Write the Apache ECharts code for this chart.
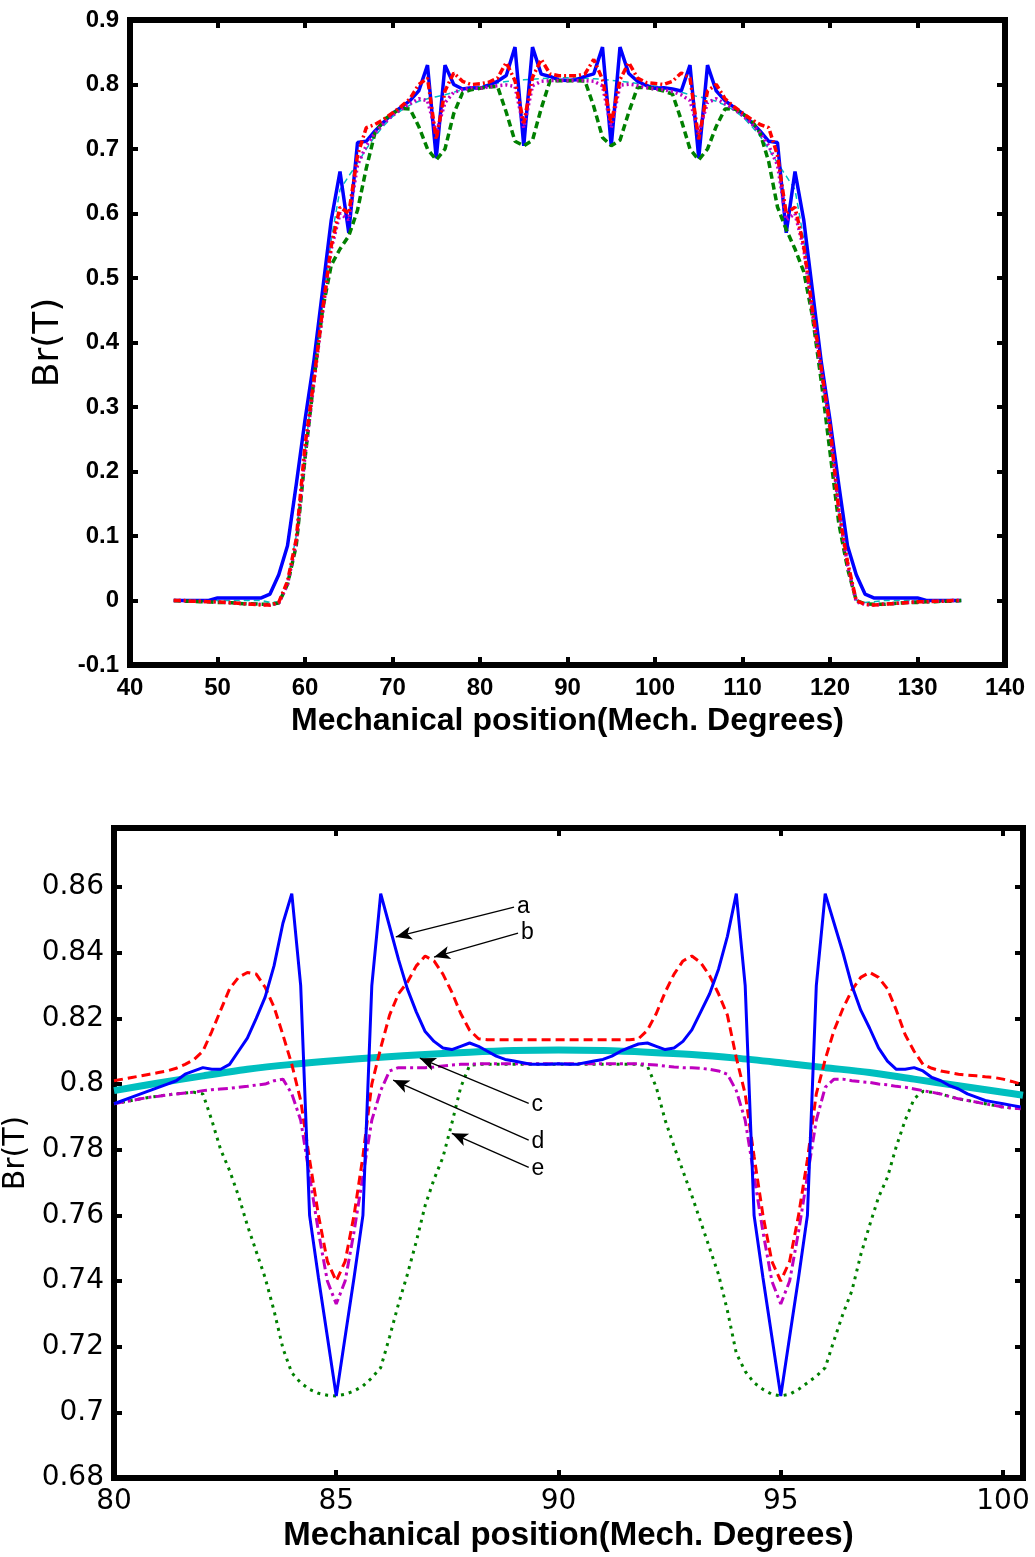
<!DOCTYPE html>
<html>
<head>
<meta charset="utf-8">
<script src="https://cdn.jsdelivr.net/npm/echarts@6/dist/echarts.min.js"></script>
<style>
  html, body { margin: 0; padding: 0; background: #ffffff; }
  #chart { width: 1035px; height: 1557px; }
</style>
</head>
<body>
<div id="chart"></div>
<script>
// ---------- Full pole pitch (upper plot) ----------
const topPos = [45, 46, 47, 48, 49, 50, 51, 52, 53, 54, 55, 56, 57, 58, 59, 60, 61, 62, 63, 64,
  65, 66, 67, 68, 69, 70, 71, 72, 73, 74, 75, 76, 77, 78, 79, 80, 81, 82, 83, 84,
  85, 86, 87, 88, 89, 90, 91, 92, 93, 94, 95, 96, 97, 98, 99, 100, 101, 102, 103, 104,
  105, 106, 107, 108, 109, 110, 111, 112, 113, 114, 115, 116, 117, 118, 119, 120, 121, 122, 123, 124,
  125, 126, 127, 128, 129, 130, 131, 132, 133, 134, 135];

const topA = [0.000, 0.000, 0.000, 0.000, 0.000, 0.004, 0.004, 0.004, 0.004, 0.004, 0.004, 0.010, 0.040, 0.085, 0.180, 0.280, 0.370, 0.480, 0.590, 0.665,
  0.570, 0.710, 0.712, 0.728, 0.742, 0.755, 0.765, 0.775, 0.790, 0.830, 0.686, 0.830, 0.800, 0.793, 0.795, 0.794, 0.799, 0.805, 0.814, 0.858,
  0.705, 0.858, 0.816, 0.8125, 0.807, 0.8062, 0.8075, 0.8125, 0.8165, 0.858, 0.705, 0.858, 0.817, 0.805, 0.7985, 0.794, 0.795, 0.793, 0.790, 0.830,
  0.686, 0.830, 0.790, 0.775, 0.765, 0.755, 0.742, 0.728, 0.712, 0.710, 0.570, 0.665, 0.590, 0.480, 0.370, 0.280, 0.180, 0.085, 0.040, 0.010,
  0.004, 0.004, 0.004, 0.004, 0.004, 0.004, 0.000, 0.000, 0.000, 0.000, 0.000];

const topB = [0.000, 0.000, -0.001, -0.001, -0.002, -0.002, -0.003, -0.004, -0.005, -0.006, -0.007, -0.007, -0.003, 0.030, 0.095, 0.240, 0.340, 0.450, 0.550, 0.610,
  0.600, 0.690, 0.733, 0.738, 0.746, 0.756, 0.766, 0.778, 0.800, 0.810, 0.715, 0.790, 0.818, 0.805, 0.800, 0.801, 0.8035, 0.810, 0.834, 0.806,
  0.740, 0.811, 0.839, 0.8164, 0.8135, 0.8135, 0.8135, 0.8164, 0.839, 0.808, 0.740, 0.8075, 0.834, 0.810, 0.803, 0.8015, 0.800, 0.805, 0.818, 0.810,
  0.715, 0.790, 0.800, 0.778, 0.766, 0.756, 0.746, 0.738, 0.733, 0.690, 0.600, 0.610, 0.550, 0.450, 0.360, 0.270, 0.140, 0.060, 0.000, -0.006,
  -0.007, -0.006, -0.005, -0.004, -0.003, -0.002, -0.002, -0.001, -0.001, 0.000, 0.000];

const topC = [0.000, 0.000, 0.000, 0.000, 0.000, 0.000, 0.000, 0.000, 0.000, 0.000, 0.000, -0.003, -0.002, 0.030, 0.100, 0.230, 0.345, 0.455, 0.560, 0.637,
  0.658, 0.678, 0.700, 0.720, 0.736, 0.750, 0.760, 0.768, 0.774, 0.778, 0.781, 0.784, 0.788, 0.792, 0.795, 0.798, 0.8003, 0.8025, 0.8045, 0.806,
  0.8072, 0.8082, 0.809, 0.8097, 0.8102, 0.8104, 0.8102, 0.8097, 0.809, 0.8079, 0.8065, 0.805, 0.8035, 0.8015, 0.7995, 0.7975, 0.795, 0.792, 0.788, 0.784,
  0.781, 0.778, 0.774, 0.768, 0.760, 0.750, 0.736, 0.720, 0.700, 0.678, 0.658, 0.637, 0.560, 0.455, 0.350, 0.260, 0.140, 0.055, 0.000, -0.003,
  -0.002, 0.000, 0.000, 0.000, 0.000, 0.000, 0.000, 0.000, 0.000, 0.000, 0.000];

const topD = [0.000, 0.000, -0.001, -0.001, -0.002, -0.002, -0.003, -0.004, -0.005, -0.006, -0.006, -0.007, -0.004, 0.025, 0.090, 0.225, 0.335, 0.445, 0.545, 0.600,
  0.590, 0.675, 0.705, 0.725, 0.740, 0.752, 0.762, 0.770, 0.778, 0.775, 0.725, 0.772, 0.788, 0.792, 0.795, 0.794, 0.7963, 0.798, 0.7993, 0.797,
  0.733, 0.798, 0.805, 0.806, 0.8062, 0.8062, 0.8062, 0.806, 0.805, 0.798, 0.733, 0.799, 0.8005, 0.7985, 0.7955, 0.793, 0.792, 0.789, 0.784, 0.775,
  0.725, 0.772, 0.778, 0.770, 0.762, 0.752, 0.740, 0.725, 0.705, 0.675, 0.590, 0.600, 0.545, 0.445, 0.355, 0.265, 0.140, 0.055, -0.002, -0.006,
  -0.007, -0.006, -0.005, -0.004, -0.003, -0.002, -0.002, -0.001, -0.001, 0.000, 0.000];

const topE = [0.000, -0.001, -0.001, -0.002, -0.002, -0.003, -0.003, -0.004, -0.005, -0.005, -0.006, -0.006, -0.004, 0.025, 0.085, 0.220, 0.340, 0.450, 0.520, 0.545,
  0.565, 0.605, 0.670, 0.725, 0.745, 0.755, 0.763, 0.762, 0.735, 0.700, 0.683, 0.700, 0.755, 0.787, 0.792, 0.794, 0.7963, 0.797, 0.757, 0.712,
  0.705, 0.7136, 0.763, 0.8057, 0.806, 0.806, 0.806, 0.8055, 0.766, 0.718, 0.705, 0.7136, 0.757, 0.7955, 0.7955, 0.793, 0.790, 0.785, 0.745, 0.700,
  0.683, 0.700, 0.735, 0.762, 0.763, 0.755, 0.745, 0.725, 0.680, 0.610, 0.575, 0.545, 0.510, 0.440, 0.340, 0.230, 0.120, 0.050, 0.000, -0.005,
  -0.006, -0.006, -0.005, -0.004, -0.003, -0.003, -0.002, -0.002, -0.001, -0.001, 0.000];

// ---------- Detail between 80 and 100 degrees (lower plot) ----------
const detPos = [80.0, 80.2, 80.4, 80.6, 80.8, 81.0, 81.2, 81.4, 81.6, 81.8,
  82.0, 82.2, 82.4, 82.6, 82.8, 83.0, 83.2, 83.4, 83.6, 83.8,
  84.0, 84.2, 84.4, 84.6, 84.8, 85.0, 85.2, 85.4, 85.6, 85.8,
  86.0, 86.2, 86.4, 86.6, 86.8, 87.0, 87.2, 87.4, 87.6, 87.8,
  88.0, 88.2, 88.4, 88.6, 88.8, 89.0, 89.2, 89.4, 89.6, 89.8,
  90.0, 90.2, 90.4, 90.6, 90.8, 91.0, 91.2, 91.4, 91.6, 91.8,
  92.0, 92.2, 92.4, 92.6, 92.8, 93.0, 93.2, 93.4, 93.6, 93.8,
  94.0, 94.2, 94.4, 94.6, 94.8, 95.0, 95.2, 95.4, 95.6, 95.8,
  96.0, 96.2, 96.4, 96.6, 96.8, 97.0, 97.2, 97.4, 97.6, 97.8,
  98.0, 98.2, 98.4, 98.6, 98.8, 99.0, 99.2, 99.4, 99.6, 99.8,
  100.0, 100.2, 100.4];

const detA = [0.794, 0.795, 0.796, 0.797, 0.798, 0.799, 0.800, 0.801, 0.803, 0.804,
  0.805, 0.8045, 0.8045, 0.806, 0.810, 0.814, 0.820, 0.8265, 0.836, 0.849,
  0.858, 0.830, 0.760, 0.741, 0.723, 0.705, 0.723, 0.741, 0.760, 0.830,
  0.858, 0.848, 0.838, 0.829, 0.822, 0.816, 0.813, 0.811, 0.8105, 0.8115,
  0.8125, 0.8115, 0.810, 0.8085, 0.8075, 0.807, 0.8065, 0.806, 0.806, 0.806,
  0.8062, 0.806, 0.806, 0.8065, 0.807, 0.8075, 0.8085, 0.810, 0.8112, 0.8122,
  0.8125, 0.8115, 0.8105, 0.811, 0.813, 0.8165, 0.822, 0.8275, 0.835, 0.845,
  0.858, 0.830, 0.760, 0.741, 0.723, 0.705, 0.723, 0.741, 0.760, 0.830,
  0.858, 0.849, 0.840, 0.830, 0.8225, 0.817, 0.811, 0.807, 0.8045, 0.8045,
  0.805, 0.804, 0.802, 0.801, 0.7995, 0.7985, 0.797, 0.796, 0.795, 0.7945,
  0.794, 0.7935, 0.793];

const detB = [0.801, 0.8015, 0.802, 0.8025, 0.803, 0.8035, 0.804, 0.8048, 0.806, 0.8075,
  0.810, 0.816, 0.8225, 0.829, 0.8325, 0.834, 0.8335, 0.8295, 0.8235, 0.815,
  0.806, 0.795, 0.777, 0.760, 0.746, 0.740, 0.746, 0.760, 0.778, 0.800,
  0.811, 0.821, 0.8275, 0.831, 0.836, 0.839, 0.8375, 0.8335, 0.828, 0.8215,
  0.8164, 0.8138, 0.8135, 0.8135, 0.8135, 0.8135, 0.8135, 0.8135, 0.8135, 0.8135,
  0.8135, 0.8135, 0.8135, 0.8135, 0.8135, 0.8135, 0.8135, 0.8135, 0.8135, 0.8138,
  0.8164, 0.8215, 0.828, 0.8335, 0.8375, 0.839, 0.837, 0.833, 0.8275, 0.821,
  0.808, 0.797, 0.778, 0.760, 0.746, 0.740, 0.746, 0.760, 0.777, 0.797,
  0.8075, 0.8164, 0.823, 0.8286, 0.8325, 0.834, 0.8325, 0.829, 0.8225, 0.815,
  0.810, 0.806, 0.8048, 0.804, 0.8035, 0.803, 0.8027, 0.8025, 0.8022, 0.802,
  0.8015, 0.8008, 0.800];

const detD = [0.794, 0.7945, 0.795, 0.7955, 0.796, 0.7963, 0.7967, 0.797, 0.7973, 0.7975,
  0.798, 0.7983, 0.7985, 0.7987, 0.799, 0.7993, 0.7997, 0.800, 0.801, 0.8015,
  0.797, 0.789, 0.772, 0.755, 0.740, 0.733, 0.740, 0.755, 0.772, 0.789,
  0.798, 0.804, 0.805, 0.805, 0.805, 0.805, 0.8052, 0.8055, 0.8058, 0.806,
  0.806, 0.8062, 0.8062, 0.8062, 0.8062, 0.8062, 0.8062, 0.8062, 0.8062, 0.8062,
  0.8062, 0.8062, 0.8062, 0.8062, 0.8062, 0.8062, 0.8062, 0.8062, 0.8062, 0.8062,
  0.806, 0.8058, 0.8055, 0.8052, 0.805, 0.805, 0.8048, 0.8045, 0.804, 0.803,
  0.798, 0.789, 0.772, 0.755, 0.740, 0.733, 0.740, 0.755, 0.772, 0.789,
  0.799, 0.8015, 0.8015, 0.801, 0.8007, 0.8005, 0.800, 0.7998, 0.7993, 0.799,
  0.7985, 0.798, 0.7975, 0.797, 0.7962, 0.7955, 0.795, 0.7945, 0.794, 0.7935,
  0.793, 0.7927, 0.7925];

const detE = [0.794, 0.7945, 0.795, 0.7955, 0.796, 0.7963, 0.7967, 0.797, 0.7973, 0.7975,
  0.797, 0.789, 0.780, 0.7737, 0.766, 0.757, 0.749, 0.741, 0.731, 0.7195,
  0.712, 0.709, 0.707, 0.7058, 0.7052, 0.705, 0.7055, 0.7065, 0.708, 0.7105,
  0.7136, 0.723, 0.733, 0.742, 0.752, 0.763, 0.771, 0.7777, 0.788, 0.799,
  0.8057, 0.806, 0.806, 0.806, 0.806, 0.806, 0.806, 0.806, 0.806, 0.806,
  0.806, 0.806, 0.806, 0.806, 0.806, 0.806, 0.806, 0.806, 0.806, 0.806,
  0.8055, 0.799, 0.789, 0.781, 0.7735, 0.766, 0.758, 0.750, 0.742, 0.731,
  0.718, 0.7125, 0.709, 0.707, 0.7055, 0.705, 0.7055, 0.707, 0.709, 0.711,
  0.7136, 0.722, 0.730, 0.737, 0.748, 0.757, 0.7655, 0.7716, 0.781, 0.789,
  0.7955, 0.7978, 0.7975, 0.797, 0.7962, 0.7955, 0.795, 0.7945, 0.794, 0.7935,
  0.793, 0.7927, 0.7925];

// curve c is smooth, so it is sampled once per degree
const detPosC = [80, 81, 82, 83, 84, 85, 86, 87, 88, 89, 90, 91, 92, 93, 94, 95, 96, 97, 98, 99, 100, 100.45];
const detC = [0.798, 0.8003, 0.8025, 0.8045, 0.806, 0.8072, 0.8082, 0.809, 0.8097, 0.8102, 0.8104,
  0.8102, 0.8097, 0.809, 0.8079, 0.8065, 0.805, 0.8035, 0.8015, 0.7995, 0.7975, 0.7966];

// Curve labels a–e with the point each arrow marks and where its leader starts
const noteText = ['a', 'b', 'c', 'd', 'e'];
const noteTip = [[86.34, 0.8448], [87.2, 0.8387], [86.88, 0.8079], [86.28, 0.8012], [87.6, 0.7850]];
const noteTail = [[89.0, 0.8539], [89.09, 0.8460], [89.33, 0.7941], [89.33, 0.7829], [89.33, 0.7746]];

// Axis tick settings
const topXTicks = { min: 40, max: 140, step: 10 };
const topYTicks = { min: -0.1, max: 0.9, step: 0.1 };
const detXTicks = { min: 80, max: 100.45, step: 5 };
const detYTicks = { min: 0.68, max: 0.878, step: 0.02 };

const FONT = '"Liberation Sans", Arial, Helvetica, sans-serif';
const WIDE_FONT = '"DejaVu Sans", Verdana, sans-serif';
const AXIS_NAME = 'Mechanical position(Mech. Degrees)';

const COL = { a: '#0000FF', b: '#FF0000', c: '#00BFBF', d: '#BF00BF', e: '#008000' };

function pairs(xs, ys) { return xs.map((x, i) => [x, ys[i]]); }

// only label values that sit on the tick step (skips a non-aligned axis end)
function onStep(step) {
  return function (v) {
    const k = v / step;
    if (Math.abs(k - Math.round(k)) > 1e-6) return '';
    return String(+v.toFixed(4));
  };
}

function valueAxis(opts) {
  const t = opts.ticks;
  return {
    type: 'value',
    gridIndex: opts.grid,
    position: opts.position,
    min: t.min, max: t.max, interval: t.step,
    name: opts.name || '',
    nameLocation: 'middle',
    nameGap: opts.nameGap || 0,
    nameRotate: opts.nameRotate,
    nameTextStyle: opts.nameStyle,
    axisLine: { show: false, onZero: false },
    axisTick: { show: true, inside: true, length: opts.tickLen, lineStyle: { color: '#000', width: opts.tickWidth } },
    axisLabel: opts.labelStyle ? Object.assign({
      show: true, showMinLabel: true, showMaxLabel: true, formatter: onStep(t.step), color: '#000'
    }, opts.labelStyle) : { show: false },
    splitLine: { show: false }
  };
}

const topLabel = { fontSize: 24, fontWeight: 'bold', margin: 11, fontFamily: FONT };
const detLabel = { fontSize: 28, fontWeight: 'normal', margin: 10, fontFamily: WIDE_FONT };

const option = {
  animation: false,
  backgroundColor: '#ffffff',
  grid: [
    { left: 130, right: 30, top: 20, bottom: 892, outerBoundsMode: 'none', containLabel: false,
      show: true, borderColor: '#000', borderWidth: 6, backgroundColor: '#fff' },
    { left: 114, right: 12, top: 828, bottom: 79, outerBoundsMode: 'none', containLabel: false,
      show: true, borderColor: '#000', borderWidth: 6, backgroundColor: '#fff' }
  ],
  xAxis: [
    valueAxis({ grid: 0, position: 'bottom', ticks: topXTicks, tickLen: 8, tickWidth: 4, labelStyle: topLabel,
      name: AXIS_NAME, nameGap: 40, nameStyle: { fontSize: 32, fontWeight: 'bold', color: '#000', fontFamily: FONT } }),
    valueAxis({ grid: 0, position: 'top', ticks: topXTicks, tickLen: 8, tickWidth: 4 }),
    valueAxis({ grid: 1, position: 'bottom', ticks: detXTicks, tickLen: 8, tickWidth: 4, labelStyle: detLabel,
      name: AXIS_NAME, nameGap: 41, nameStyle: { fontSize: 33, fontWeight: 'bold', color: '#000', fontFamily: FONT } }),
    valueAxis({ grid: 1, position: 'top', ticks: detXTicks, tickLen: 8, tickWidth: 4 })
  ],
  yAxis: [
    valueAxis({ grid: 0, position: 'left', ticks: topYTicks, tickLen: 8, tickWidth: 4, labelStyle: topLabel,
      name: 'Br(T)', nameGap: 63, nameRotate: 90, nameStyle: { fontSize: 36, fontWeight: 'normal', color: '#000', fontFamily: WIDE_FONT } }),
    valueAxis({ grid: 0, position: 'right', ticks: topYTicks, tickLen: 8, tickWidth: 4 }),
    valueAxis({ grid: 1, position: 'left', ticks: detYTicks, tickLen: 8, tickWidth: 4, labelStyle: detLabel,
      name: 'Br(T)', nameGap: 73, nameRotate: 90, nameStyle: { fontSize: 30, fontWeight: 'normal', color: '#000', fontFamily: WIDE_FONT } }),
    valueAxis({ grid: 1, position: 'right', ticks: detYTicks, tickLen: 8, tickWidth: 4 })
  ],
  series: [
    // upper plot
    { name: 'c', type: 'line', xAxisIndex: 0, yAxisIndex: 0, data: pairs(topPos, topC), showSymbol: false,
      lineStyle: { color: COL.c, width: 1.5, type: [6, 4] } },
    { name: 'a', type: 'line', xAxisIndex: 0, yAxisIndex: 0, data: pairs(topPos, topA), showSymbol: false,
      lineStyle: { color: COL.a, width: 3.5 } },
    { name: 'e', type: 'line', xAxisIndex: 0, yAxisIndex: 0, data: pairs(topPos, topE), showSymbol: false,
      lineStyle: { color: COL.e, width: 3.5, type: [7, 4] } },
    { name: 'd', type: 'line', xAxisIndex: 0, yAxisIndex: 0, data: pairs(topPos, topD), showSymbol: false,
      lineStyle: { color: COL.d, width: 3.5, type: [2, 3] } },
    { name: 'b', type: 'line', xAxisIndex: 0, yAxisIndex: 0, data: pairs(topPos, topB), showSymbol: false,
      lineStyle: { color: COL.b, width: 3.5, type: [7, 3, 2, 3] } },
    // lower plot
    { name: 'c', type: 'line', xAxisIndex: 2, yAxisIndex: 2, data: pairs(detPosC, detC), showSymbol: false, smooth: 0.3,
      lineStyle: { color: COL.c, width: 7 } },
    { name: 'e', type: 'line', xAxisIndex: 2, yAxisIndex: 2, data: pairs(detPos, detE), showSymbol: false,
      lineStyle: { color: COL.e, width: 3, type: [3, 5] } },
    { name: 'd', type: 'line', xAxisIndex: 2, yAxisIndex: 2, data: pairs(detPos, detD), showSymbol: false,
      lineStyle: { color: COL.d, width: 3, type: [10, 4, 3, 4] } },
    { name: 'b', type: 'line', xAxisIndex: 2, yAxisIndex: 2, data: pairs(detPos, detB), showSymbol: false,
      lineStyle: { color: COL.b, width: 3, type: [9, 5] } },
    { name: 'a', type: 'line', xAxisIndex: 2, yAxisIndex: 2, data: pairs(detPos, detA), showSymbol: false,
      lineStyle: { color: COL.a, width: 3 },
      markLine: {
        silent: true,
        animation: false,
        symbol: ['none', 'arrow'],
        symbolSize: [10, 16],
        lineStyle: { color: '#000', width: 1.3, type: 'solid' },
        label: { show: true, position: 'start', distance: 3, color: '#000', fontSize: 23, fontFamily: FONT },
        emphasis: { disabled: true },
        data: noteText.map((t, i) => [
          { coord: noteTail[i], name: t, label: { formatter: t } },
          { coord: noteTip[i] }
        ])
      } }
  ]
};

const chart = echarts.init(document.getElementById('chart'), null, { renderer: 'canvas' });
chart.setOption(option);
</script>
</body>
</html>
